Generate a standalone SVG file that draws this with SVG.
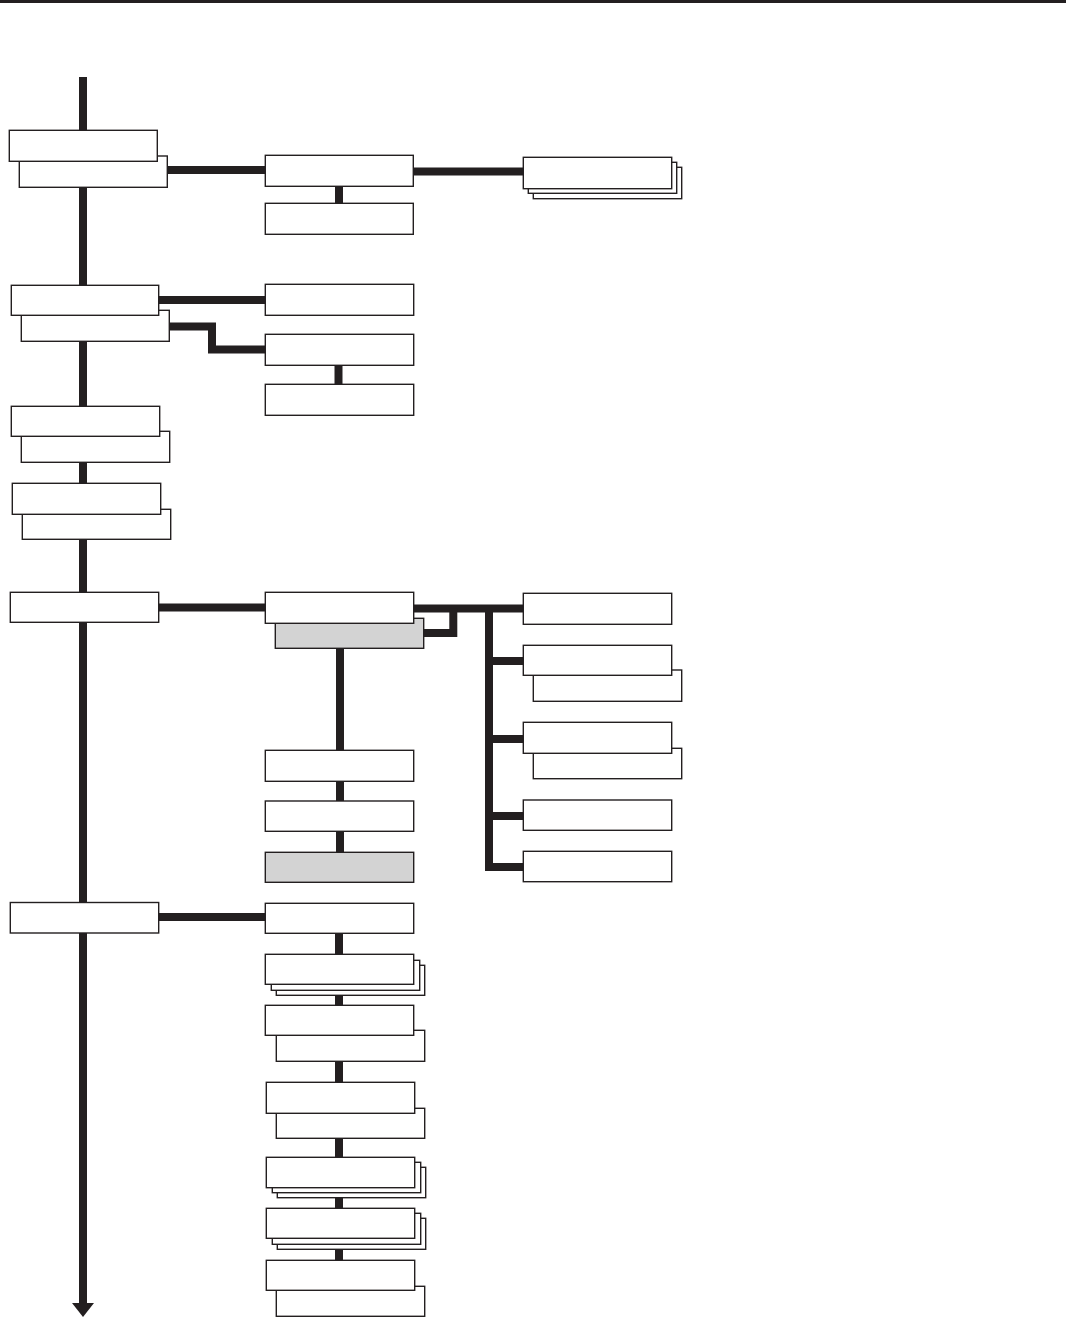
<svg xmlns="http://www.w3.org/2000/svg" width="1066" height="1341" viewBox="0 0 1066 1341">
<style>
.c{fill:none;stroke:#231f20;stroke-width:8;stroke-linejoin:miter;stroke-linecap:butt}
.n rect{fill:#fff;stroke:#231f20;stroke-width:1.4}
.n rect.g{fill:#d3d3d3}
</style>
<rect x="0" y="0" width="1066" height="3" fill="#231f20"/>
<g id="connectors">
<path class="c" d="M83,77 V1303"/>
<path d="M72,1303 H94 L83,1317 Z" fill="#231f20"/>
<path class="c" d="M167,170 H265"/>
<path class="c" d="M413,171.5 H523"/>
<path class="c" d="M339,186 V203"/>
<path class="c" d="M158,300 H265"/>
<path class="c" d="M169,326.5 H212 V349.5 H265"/>
<path class="c" d="M338.5,365 V384"/>
<path class="c" d="M158,607.5 H265"/>
<path class="c" d="M413,608.5 H523"/>
<path class="c" d="M423,633 H453.3 V608.5"/>
<path class="c" d="M489,605 V867 H523"/>
<path class="c" d="M489,661 H523"/>
<path class="c" d="M489,739 H523"/>
<path class="c" d="M489,816 H523"/>
<path class="c" d="M340,648 V852"/>
<path class="c" d="M158,917 H265"/>
<path class="c" d="M339,933 V1260"/>
</g>
<g id="n1" class="n"><rect x="19.3" y="156" width="148" height="31.3"/><rect x="9.3" y="130.3" width="148" height="31"/></g>
<g id="n2" class="n"><rect x="21.3" y="310.3" width="148" height="31"/><rect x="11.3" y="285.3" width="147.4" height="30"/></g>
<g id="n3" class="n"><rect x="21.3" y="431.3" width="148.4" height="31"/><rect x="11.3" y="406.3" width="148.4" height="30"/></g>
<g id="n4" class="n"><rect x="22.3" y="509.3" width="148.4" height="30"/><rect x="12.3" y="483.3" width="148.4" height="31"/></g>
<g id="n5" class="n"><rect x="10.3" y="592.3" width="148.4" height="30"/></g>
<g id="n6" class="n"><rect x="10.3" y="902.5" width="148.4" height="30.5"/></g>
<g id="a1" class="n"><rect x="265.3" y="155.3" width="148" height="31"/></g>
<g id="a2" class="n"><rect x="265.3" y="203.3" width="148" height="31"/></g>
<g id="a3" class="n"><rect x="533.3" y="167.3" width="148.4" height="31.4"/><rect x="528.3" y="162.3" width="148.4" height="31"/><rect x="523.3" y="157.3" width="148.4" height="31.4"/></g>
<g id="b1" class="n"><rect x="265.3" y="284.3" width="148.4" height="31"/></g>
<g id="b2" class="n"><rect x="265.3" y="334.3" width="148.4" height="31"/></g>
<g id="b3" class="n"><rect x="265.3" y="384.3" width="148.4" height="31"/></g>
<g id="c1" class="n"><rect class="g" x="275.3" y="618.3" width="148.4" height="30"/><rect x="265.3" y="592.3" width="148.4" height="31"/></g>
<g id="d1" class="n"><rect x="523.3" y="593.3" width="148.4" height="31"/></g>
<g id="d2" class="n"><rect x="533.3" y="670" width="148.4" height="31.3"/><rect x="523.3" y="645.3" width="148.4" height="30"/></g>
<g id="d3" class="n"><rect x="533.3" y="748.3" width="148.4" height="30.4"/><rect x="523.3" y="722.3" width="148.4" height="31"/></g>
<g id="d4" class="n"><rect x="523.3" y="800" width="148.4" height="30.3"/></g>
<g id="d5" class="n"><rect x="523.3" y="851.3" width="148.4" height="30.4"/></g>
<g id="e1" class="n"><rect x="265.3" y="750.3" width="148.4" height="31"/></g>
<g id="e2" class="n"><rect x="265.3" y="801" width="148.4" height="30.3"/></g>
<g id="e3" class="n"><rect class="g" x="265.3" y="852.3" width="148.4" height="30"/></g>
<g id="f1" class="n"><rect x="265.3" y="903.3" width="148.4" height="30"/></g>
<g id="f2" class="n"><rect x="276.3" y="965.3" width="148.4" height="30"/><rect x="271.3" y="960.3" width="148.4" height="30"/><rect x="265.3" y="954.3" width="148.4" height="30"/></g>
<g id="f3" class="n"><rect x="276.3" y="1030.3" width="148.4" height="31"/><rect x="265.3" y="1005.3" width="148.4" height="30"/></g>
<g id="f4" class="n"><rect x="276.3" y="1108.3" width="148.4" height="30"/><rect x="266.3" y="1082.3" width="148.4" height="31"/></g>
<g id="f5" class="n"><rect x="277.3" y="1167.3" width="148.4" height="30.4"/><rect x="272.3" y="1162.3" width="148.4" height="30.4"/><rect x="266.3" y="1157.3" width="148.4" height="30.4"/></g>
<g id="f6" class="n"><rect x="277.3" y="1218.3" width="148.4" height="31"/><rect x="272.3" y="1213.3" width="148.4" height="31"/><rect x="266.3" y="1208.3" width="148.4" height="30"/></g>
<g id="f7" class="n"><rect x="276.3" y="1286.3" width="148.4" height="30"/><rect x="266.3" y="1260.3" width="148.4" height="30"/></g>
</svg>
